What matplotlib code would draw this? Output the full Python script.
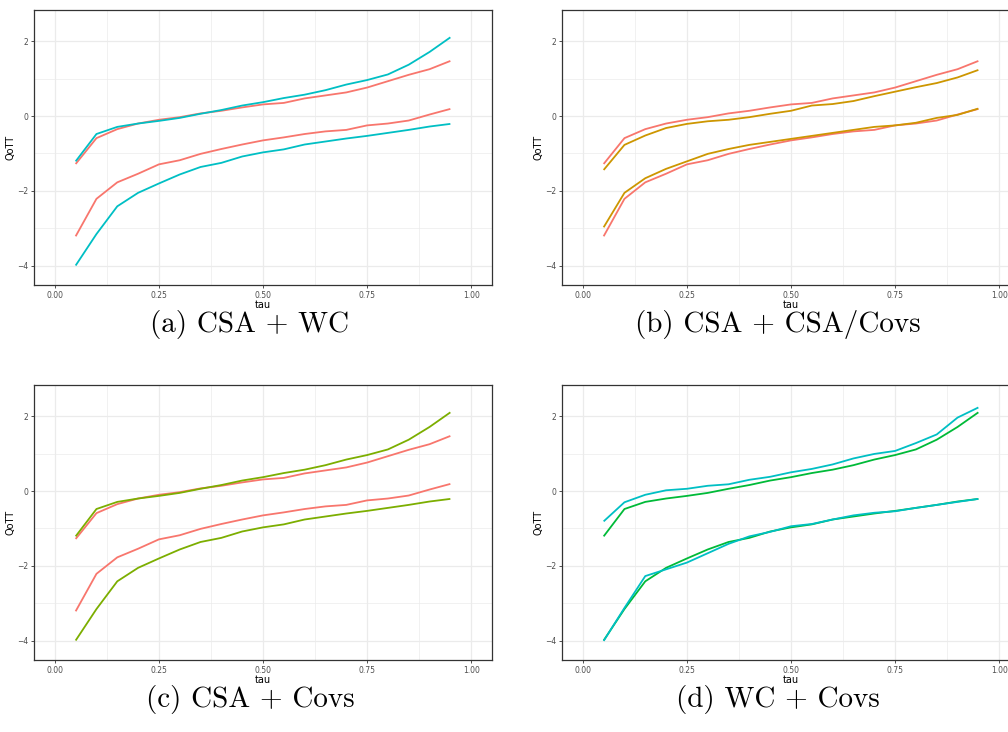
import matplotlib
matplotlib.use("Agg")
import matplotlib.pyplot as plt
import numpy as np

TAU = [0.05, 0.10, 0.15, 0.20, 0.25, 0.30, 0.35, 0.40, 0.45, 0.50,
       0.55, 0.60, 0.65, 0.70, 0.75, 0.80, 0.85, 0.90, 0.95]

# CSA bounds (red, panels a-c)
CSA_UP = [-1.28, -0.59, -0.35, -0.20, -0.10, -0.03, 0.07, 0.14, 0.23, 0.31,
          0.35, 0.47, 0.55, 0.63, 0.76, 0.93, 1.10, 1.25, 1.47]
CSA_LO = [-3.21, -2.21, -1.77, -1.54, -1.29, -1.18, -1.01, -0.88, -0.76, -0.65,
          -0.57, -0.48, -0.41, -0.37, -0.25, -0.20, -0.12, 0.04, 0.19]

# second series of panels a and c, green series of panel d
COVS_UP = [-1.21, -0.48, -0.29, -0.20, -0.13, -0.05, 0.06, 0.16, 0.28, 0.37,
           0.48, 0.57, 0.69, 0.84, 0.96, 1.11, 1.37, 1.71, 2.10]
COVS_LO = [-3.99, -3.15, -2.41, -2.05, -1.80, -1.56, -1.36, -1.25, -1.08, -0.97,
           -0.89, -0.76, -0.68, -0.60, -0.53, -0.45, -0.37, -0.28, -0.21]

# CSA/Covs (gold, panel b)
CSACOVS_UP = [-1.44, -0.77, -0.52, -0.32, -0.21, -0.14, -0.10, -0.03, 0.06, 0.14,
              0.28, 0.32, 0.40, 0.53, 0.65, 0.77, 0.88, 1.03, 1.23]
CSACOVS_LO = [-2.97, -2.05, -1.66, -1.41, -1.21, -1.01, -0.88, -0.77, -0.69, -0.61,
              -0.53, -0.45, -0.37, -0.29, -0.25, -0.18, -0.05, 0.03, 0.20]

# WC (cyan, panel d)
WC_UP = [-0.81, -0.30, -0.10, 0.02, 0.06, 0.14, 0.18, 0.30, 0.38, 0.50,
         0.59, 0.71, 0.87, 0.99, 1.07, 1.28, 1.51, 1.96, 2.23]
WC_LO = [-4.00, -3.12, -2.27, -2.09, -1.91, -1.66, -1.41, -1.21, -1.09, -0.94,
         -0.88, -0.76, -0.65, -0.58, -0.54, -0.45, -0.37, -0.29, -0.21]

CAPTIONS = ["(a) CSA + WC", "(b) CSA + CSA/Covs", "(c) CSA + Covs", "(d) WC + Covs"]

RED = "#F8766D"
CYAN = "#00BFC4"
GOLD = "#CD9600"
OLIVE = "#7CAE00"
GREEN = "#00BA38"

PANELS = [
    [(CSA_UP, CSA_LO, RED), (COVS_UP, COVS_LO, CYAN)],
    [(CSA_UP, CSA_LO, RED), (CSACOVS_UP, CSACOVS_LO, GOLD)],
    [(CSA_UP, CSA_LO, RED), (COVS_UP, COVS_LO, OLIVE)],
    [(COVS_UP, COVS_LO, GREEN), (WC_UP, WC_LO, CYAN)],
]

W, H = 1008, 732
BOXES = [(34, 10, 492, 285), (562, 10, 1020, 285),
         (34, 385, 492, 660), (562, 385, 1020, 660)]
CAP_POS = [(250, 324), (778, 324), (250, 699), (778, 699)]

fig = plt.figure(figsize=(W / 100, H / 100), dpi=100)

for (x0, y0, x1, y1), series in zip(BOXES, PANELS):
    ax = fig.add_axes([x0 / W, 1 - y1 / H, (x1 - x0) / W, (y1 - y0) / H])
    for up, lo, col in series:
        ax.plot(TAU, up, color=col, lw=1.3, solid_capstyle="butt")
        ax.plot(TAU, lo, color=col, lw=1.3, solid_capstyle="butt")
    ax.set_xlim(-0.05, 1.05)
    ax.set_ylim(-4.51, 2.83)
    ax.set_xticks([0, 0.25, 0.5, 0.75, 1.0])
    ax.set_xticklabels(["0.00", "0.25", "0.50", "0.75", "1.00"])
    ax.set_yticks([-4, -2, 0, 2])
    ax.set_yticklabels(["\u22124", "\u22122", "0", "2"])
    ax.set_xticks([0.125, 0.375, 0.625, 0.875], minor=True)
    ax.set_yticks([-3, -1, 1], minor=True)
    ax.grid(True, which="major", color="#EBEBEB", lw=0.9)
    ax.grid(True, which="minor", color="#EBEBEB", lw=0.5)
    ax.set_axisbelow(True)
    ax.tick_params(which="major", length=2.5, width=0.6, color="#333333",
                   labelsize=5.5, labelcolor="#4D4D4D", pad=1.5)
    ax.tick_params(which="minor", length=0)
    for sp in ax.spines.values():
        sp.set_color("#333333")
        sp.set_linewidth(0.9)
    ax.set_xlabel("tau", fontsize=7, labelpad=0)
    ax.set_ylabel("QoTT", fontsize=7, labelpad=1)

for (cx, cy), cap in zip(CAP_POS, CAPTIONS):
    fig.text(cx / W, 1 - cy / H, cap, ha="center", va="center",
             fontsize=21, family="cmr10")

fig.savefig("out.png", dpi=100)
